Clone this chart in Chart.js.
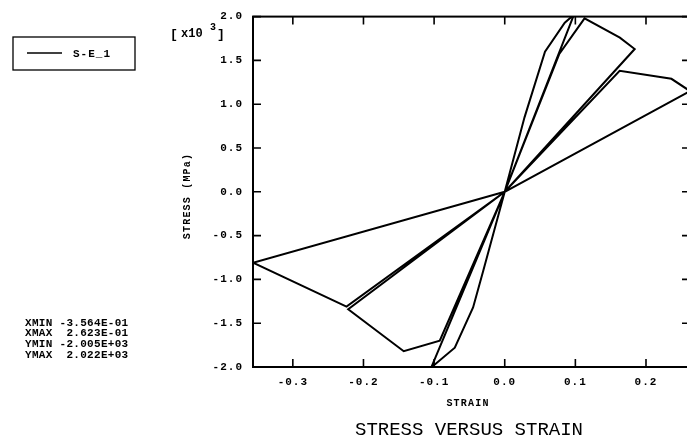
<!DOCTYPE html>
<html>
<head>
<meta charset="utf-8">
<script src="https://cdn.jsdelivr.net/npm/chart.js@4/dist/chart.umd.min.js"></script>
<style>
  html, body { margin: 0; padding: 0; background: #fff; overflow: hidden; }
  canvas { display: block; }
</style>
</head>
<body>
<canvas id="se-chart" width="700" height="440"></canvas>
<script>
// cyclic load path, strain [-] vs stress [MPa]
const strain = [0, 0.028, 0.057, 0.085, 0.098, 0,
                -0.0307, -0.0448, -0.0707, -0.104, 0,
                0.077, 0.113, 0.163, 0.184, 0,
                -0.092, -0.143, -0.2216, 0,
                0.1627, 0.236, 0.2623, 0,
                -0.224, -0.3564, 0];
const stress = [0, 850, 1600, 1930, 2022, 0,
                -910, -1320, -1780, -2005, 0,
                1570, 1980, 1760, 1630, 0,
                -1700, -1820, -1340, 0,
                1382, 1290, 1150, 0,
                -1310, -810, 0];
const seriesName = 'S-E_1';

const MONO = "'Liberation Mono', 'DejaVu Sans Mono', monospace";

function sci(v) {
  let s = v.toExponential(3).toUpperCase();
  s = s.replace(/E([+-])(\d)$/, 'E$10$2');
  return s.padStart(10);
}

const decor = {
  id: 'decor',
  beforeDraw(chart) {
    chart.ctx.letterSpacing = '1px';
  },
  afterDraw(chart) {
    const { ctx, chartArea: a, scales: { x, y } } = chart;
    ctx.save();
    ctx.strokeStyle = '#000';
    ctx.fillStyle = '#000';

    // frame
    ctx.lineWidth = 2;
    ctx.strokeRect(a.left, a.top, a.right - a.left, a.bottom - a.top);

    // inward ticks on all four sides
    ctx.lineWidth = 1.6;
    ctx.beginPath();
    x.ticks.forEach(t => {
      const px = x.getPixelForValue(t.value);
      ctx.moveTo(px, a.bottom); ctx.lineTo(px, a.bottom - 8);
      ctx.moveTo(px, a.top);    ctx.lineTo(px, a.top + 8);
    });
    y.ticks.forEach(t => {
      const py = y.getPixelForValue(t.value);
      ctx.moveTo(a.left, py);  ctx.lineTo(a.left + 8, py);
      ctx.moveTo(a.right, py); ctx.lineTo(a.right - 8, py);
    });
    ctx.stroke();

    // exponent marker
    ctx.letterSpacing = '0px';
    ctx.textBaseline = 'alphabetic';
    ctx.textAlign = 'left';
    ctx.font = 'bold 13px ' + MONO;
    ctx.fillText('[', 170, 38);
    ctx.fillText(']', 217, 38);
    ctx.font = 'bold 12px ' + MONO;
    ctx.fillText('x10', 181, 37);
    ctx.font = 'bold 10px ' + MONO;
    ctx.fillText('3', 210, 30);

    // axis titles
    ctx.textBaseline = 'middle';
    ctx.textAlign = 'center';
    ctx.font = 'bold 10px ' + MONO;
    ctx.letterSpacing = '1.2px';
    ctx.fillText('STRAIN', 468, 403);
    ctx.save();
    ctx.translate(187, 196);
    ctx.rotate(-Math.PI / 2);
    ctx.fillText('STRESS (MPa)', 0, 0);
    ctx.restore();

    // main title
    ctx.letterSpacing = '0px';
    ctx.font = '19px ' + MONO;
    ctx.fillText('STRESS VERSUS STRAIN', 469, 430);

    // legend box
    ctx.lineWidth = 1.3;
    ctx.strokeRect(13, 37, 122, 33);
    ctx.lineWidth = 1.5;
    ctx.beginPath();
    ctx.moveTo(27, 53); ctx.lineTo(62, 53);
    ctx.stroke();
    ctx.textAlign = 'left';
    ctx.font = 'bold 11px ' + MONO;
    ctx.letterSpacing = '1px';
    ctx.fillText(chart.data.datasets[0].label, 73, 54);

    // data extents
    const rows = [
      ['XMIN', Math.min(...strain)],
      ['XMAX', Math.max(...strain)],
      ['YMIN', Math.min(...stress)],
      ['YMAX', Math.max(...stress)],
    ];
    ctx.letterSpacing = '0.3px';
    ctx.font = 'bold 11px ' + MONO;
    rows.forEach((r, i) => {
      ctx.fillText(r[0] + ' ' + sci(r[1]), 25, 323 + i * 10.7);
    });

    ctx.restore();
  }
};

new Chart(document.getElementById('se-chart'), {
  type: 'scatter',
  data: {
    datasets: [{
      label: seriesName,
      data: strain.map((s, i) => ({ x: s, y: stress[i] })),
      showLine: true,
      borderColor: '#000',
      borderWidth: 2,
      pointRadius: 0,
      tension: 0,
    }]
  },
  options: {
    responsive: false,
    animation: false,
    layout: { padding: { top: 11, right: 10, left: 0, bottom: 0 } },
    plugins: {
      legend: { display: false },
      tooltip: { enabled: false },
    },
    scales: {
      x: {
        type: 'linear',
        min: -0.3564,
        max: 0.2623,
        afterFit: s => { s.height = 73; },
        grid: { display: false, drawTicks: false },
        border: { display: false },
        ticks: {
          stepSize: 0.1,
          includeBounds: false,
          autoSkip: false,
          maxRotation: 0,
          padding: 9,
          color: '#000',
          font: { family: MONO, size: 11, weight: 'bold' },
          callback: v => v.toFixed(1),
        },
      },
      y: {
        type: 'linear',
        min: -2000,
        max: 2000,
        afterFit: s => { s.width = 253; },
        grid: { display: false, drawTicks: false },
        border: { display: false },
        ticks: {
          stepSize: 500,
          autoSkip: false,
          padding: 10,
          color: '#000',
          font: { family: MONO, size: 11, weight: 'bold' },
          callback: v => (v / 1000).toFixed(1),
        },
      },
    },
  },
  plugins: [decor],
});
</script>
</body>
</html>
